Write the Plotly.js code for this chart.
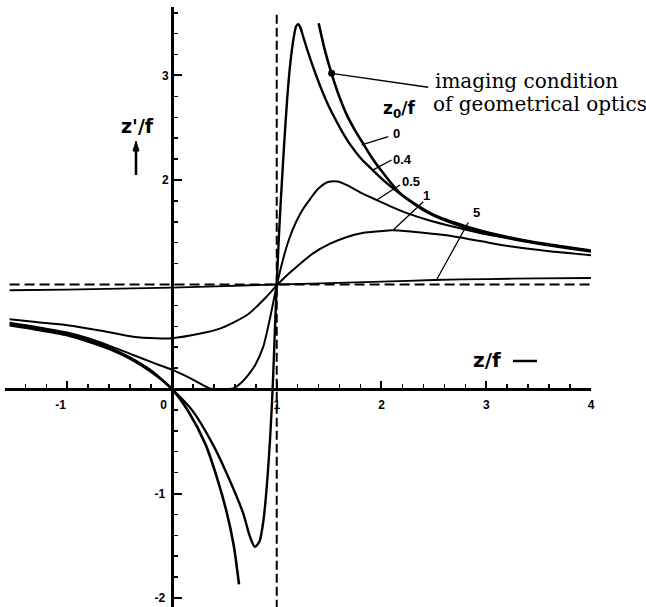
<!DOCTYPE html>
<html>
<head>
<meta charset="utf-8">
<script src="https://cdn.plot.ly/plotly-3.0.1.min.js"></script>
<style>
  html, body { margin: 0; padding: 0; background: #ffffff; }
  #chart { width: 646px; height: 607px; }
</style>
</head>
<body>
<div id="chart"></div>
<script>
// Image distance z'/f versus object distance z/f for a thin lens,
// one curve per Rayleigh range z0/f of the incoming beam.

// z0/f = 0 (geometrical optics), branch left of the focal point
const zGeoLeft  = [-1.55, -1.3, -1.0, -0.8, -0.6, -0.4, -0.2, 0.0, 0.16, 0.32, 0.43, 0.52, 0.59, 0.64];
const zpGeoLeft = [0.61, 0.57, 0.515, 0.455, 0.385, 0.29, 0.165, 0.0, -0.22, -0.53, -0.85, -1.17, -1.5, -1.87];

// z0/f = 0, branch right of the focal point
const zGeoRight  = [1.40, 1.46, 1.52, 1.60, 1.67, 1.75, 1.83, 1.91, 1.99, 2.18, 2.49, 2.81, 3.13, 3.45, 3.75, 4.0];
const zpGeoRight = [3.50, 3.24, 3.03, 2.79, 2.62, 2.47, 2.34, 2.21, 2.10, 1.87, 1.67, 1.555, 1.47, 1.405, 1.36, 1.325];

// z0/f = 0.4
const z04  = [-1.55, -1.3, -1.0, -0.8, -0.6, -0.4, -0.2, 0.0, 0.19, 0.39, 0.55, 0.68, 0.74, 0.79, 0.835, 0.87, 0.895, 0.915, 0.935, 0.95, 0.965, 0.98,
              1.0, 1.02, 1.04, 1.07, 1.10, 1.13, 1.16, 1.185, 1.205, 1.225, 1.25, 1.29, 1.33, 1.38, 1.43, 1.49, 1.55, 1.62, 1.70, 1.80, 1.92, 2.05,
              2.2, 2.4, 2.6, 2.8, 3.0, 3.25, 3.5, 3.75, 4.0];
const zp04 = [0.625, 0.582, 0.527, 0.467, 0.397, 0.302, 0.177, 0.0, -0.2, -0.53, -0.87, -1.19, -1.40, -1.51, -1.46, -1.28, -1.05, -0.80, -0.50, -0.22, 0.10, 0.50,
              1.0, 1.45, 1.82, 2.33, 2.78, 3.12, 3.35, 3.47, 3.49, 3.46, 3.38, 3.25, 3.13, 2.99, 2.86, 2.72, 2.60, 2.47, 2.34, 2.21, 2.09, 1.97,
              1.85, 1.71, 1.615, 1.545, 1.49, 1.435, 1.39, 1.35, 1.315];

// z0/f = 0.5
const z05  = [-1.55, -1.3, -1.0, -0.8, -0.6, -0.37, -0.2, -0.11, 0.0, 0.1, 0.2, 0.3, 0.36, 0.45, 0.52, 0.585, 0.65, 0.74, 0.8, 0.87, 0.93, 1.0,
              1.06, 1.12, 1.19, 1.25, 1.32, 1.4, 1.49, 1.58, 1.67, 1.82, 1.95, 2.08, 2.25, 2.45, 2.7, 3.0, 3.3, 3.6, 4.0];
const zp05 = [0.635, 0.595, 0.54, 0.485, 0.415, 0.325, 0.26, 0.225, 0.185, 0.14, 0.09, 0.035, 0.005, 0.0, 0.0, 0.005, 0.05, 0.15, 0.24, 0.40, 0.65, 0.99,
              1.24, 1.44, 1.61, 1.72, 1.82, 1.92, 1.98, 1.985, 1.95, 1.87, 1.81, 1.75, 1.68, 1.615, 1.55, 1.48, 1.43, 1.38, 1.32];

// z0/f = 1
const z1  = [-1.55, -1.3, -1.0, -0.69, -0.37, -0.15, 0.0, 0.27, 0.45, 0.585, 0.72, 0.81, 0.9, 1.0, 1.1, 1.19, 1.35, 1.51, 1.67, 1.83, 1.98, 2.1,
             2.3, 2.62, 2.94, 3.26, 3.58, 4.0];
const zp1 = [0.667, 0.64, 0.61, 0.56, 0.50, 0.485, 0.485, 0.53, 0.575, 0.635, 0.71, 0.79, 0.88, 0.99, 1.09, 1.17, 1.30, 1.39, 1.455, 1.495, 1.51, 1.52,
             1.505, 1.47, 1.415, 1.36, 1.32, 1.28];

// z0/f = 5
const z5  = [-1.55, -1.0, -0.5, 0.0, 0.5, 1.0, 1.5, 2.0, 2.5, 3.0, 3.5, 4.0];
const zp5 = [0.945, 0.95, 0.96, 0.97, 0.985, 1.0, 1.012, 1.027, 1.043, 1.052, 1.058, 1.062];

// Asymptotes z/f = 1 and z'/f = 1
const asymVertZ  = [1, 1];
const asymVertZp = [3.58, -2.09];
const asymHorZ   = [-1.55, 4.0];
const asymHorZp  = [1, 1];

// Marked point on the geometrical-optics curve
const markZ  = [1.524];
const markZp = [3.02];

// Curve labels (z0/f values) and axis tick labels
const rayleighLabels = ['0', '0.4', '0.5', '1', '5'];
const xTickVals = [-1, 0, 1, 2, 3, 4];
const xTickText = ['-1\u00a0\u00a0\u00a0\u00a0', '0\u00a0\u00a0\u00a0\u00a0\u00a0', '1', '2', '3', '4'];
const yTickVals = [-2, -1, 2, 3];
const yTickText = ['-2\u00a0', '-1\u00a0', '2', '3'];

// ---- page geometry (pixels of the 646 x 607 figure) ----
const W = 646, H = 607;
const px = x => x / W;
const py = y => 1 - y / H;

const ink = '#000000';
const curve = (x, y, w) => ({
  x, y, type: 'scatter', mode: 'lines', hoverinfo: 'skip', showlegend: false,
  line: { color: ink, width: w, shape: 'spline', smoothing: 0.7 }
});

const traces = [
  { x: asymVertZ, y: asymVertZp, type: 'scatter', mode: 'lines', showlegend: false, hoverinfo: 'skip',
    line: { color: ink, width: 2, dash: '9px,4px' } },
  { x: asymHorZ, y: asymHorZp, type: 'scatter', mode: 'lines', showlegend: false, hoverinfo: 'skip',
    line: { color: ink, width: 2, dash: '10px,5px' } },
  curve(z5, zp5, 1.8),
  curve(z1, zp1, 2),
  curve(z05, zp05, 2),
  curve(z04, zp04, 2.4),
  curve(zGeoLeft, zpGeoLeft, 2.6),
  curve(zGeoRight, zpGeoRight, 2.6),
  { x: markZ, y: markZp, type: 'scatter', mode: 'markers', showlegend: false, hoverinfo: 'skip',
    marker: { color: ink, size: 7 } }
];

// leader lines from each curve to its label (data units)
const leader = (x0, y0, x1, y1) => ({
  type: 'line', xref: 'x', yref: 'y', x0, y0, x1, y1,
  line: { color: ink, width: 1.3 }
});
const shapes = [
  leader(1.811, 2.335, 2.065, 2.414),   // 0
  leader(1.921, 2.096, 2.097, 2.191),   // 0.4
  leader(1.954, 1.809, 2.176, 1.952),   // 0.5
  leader(2.112, 1.522, 2.399, 1.792),   // 1
  leader(2.526, 1.045, 2.828, 1.593),   // 5
  leader(markZ[0], markZp[0], 2.446, 2.887),
  // dash after the z/f axis label
  { type: 'line', xref: 'paper', yref: 'paper', x0: px(513), x1: px(537), y0: py(361), y1: py(361),
    line: { color: ink, width: 2.5 } },
  // upward arrow under the z'/f label
  { type: 'line', xref: 'paper', yref: 'paper', x0: px(136), x1: px(136), y0: py(175), y1: py(148),
    line: { color: ink, width: 2.6 } },
  { type: 'path', xref: 'paper', yref: 'paper',
    path: `M ${px(136)} ${py(141)} L ${px(133)} ${py(151)} L ${px(139)} ${py(151)} Z`,
    fillcolor: ink, line: { color: ink, width: 1 } }
];

const labelFont = { family: 'Liberation Sans, Arial, sans-serif', size: 13, color: ink, weight: 'bold' };
const curveLabel = (text, x, y) => ({
  text, x, y, xref: 'x', yref: 'y', showarrow: false, xanchor: 'center', yanchor: 'middle', font: labelFont
});

const annotations = [
  curveLabel(rayleighLabels[0], 2.145, 2.447),
  curveLabel(rayleighLabels[1], 2.205, 2.198),
  curveLabel(rayleighLabels[2], 2.278, 1.984),
  curveLabel(rayleighLabels[3], 2.431, 1.847),
  curveLabel(rayleighLabels[4], 2.905, 1.691),
  { text: 'z<sub>0</sub>/f', x: 2.167, y: 2.67, xref: 'x', yref: 'y', showarrow: false,
    xanchor: 'center', yanchor: 'middle',
    font: { family: 'DejaVu Sans, sans-serif', size: 17, color: ink, weight: 'bold' } },
  { text: 'imaging condition', x: px(433), y: py(81), xref: 'paper', yref: 'paper', showarrow: false,
    xanchor: 'left', yanchor: 'middle', font: { family: 'DejaVu Serif, serif', size: 20, color: ink } },
  { text: 'of geometrical optics', x: px(431), y: py(104), xref: 'paper', yref: 'paper', showarrow: false,
    xanchor: 'left', yanchor: 'middle', font: { family: 'DejaVu Serif, serif', size: 20, color: ink } },
  { text: "z'/f", x: px(137.5), y: py(126), xref: 'paper', yref: 'paper', showarrow: false,
    xanchor: 'center', yanchor: 'middle',
    font: { family: 'DejaVu Sans, sans-serif', size: 19, color: ink, weight: 'bold' } },
  { text: 'z/f', x: px(486.7), y: py(360), xref: 'paper', yref: 'paper', showarrow: false,
    xanchor: 'center', yanchor: 'middle',
    font: { family: 'DejaVu Sans, sans-serif', size: 20, color: ink, weight: 'bold' } }
];

const tickFont = { family: 'Liberation Sans, Arial, sans-serif', size: 12, color: ink, weight: 'bold' };

const layout = {
  width: W, height: H,
  margin: { l: 0, r: 0, t: 0, b: 0, pad: 0 },
  paper_bgcolor: '#ffffff', plot_bgcolor: 'rgba(0,0,0,0)',
  showlegend: false,
  xaxis: {
    range: [-1.594, 4.0], domain: [px(5), px(591)],
    anchor: 'free', position: py(389),
    showline: true, linewidth: 3, linecolor: ink,
    showgrid: false, zeroline: false,
    ticks: 'inside', ticklen: 7, tickwidth: 2, tickcolor: ink,
    tickmode: 'array', tickvals: xTickVals, ticktext: xTickText,
    tickfont: tickFont, ticklabelstandoff: 4,
    minor: { ticks: 'inside', tick0: 0, dtick: 0.2, ticklen: 4, tickwidth: 1.5, tickcolor: ink, showgrid: false },
    fixedrange: true
  },
  yaxis: {
    range: [-2.086, 3.655], domain: [0, 1 - 7 / H],
    anchor: 'free', position: px(172),
    showline: true, linewidth: 3, linecolor: ink,
    showgrid: false, zeroline: false,
    ticks: 'inside', ticklen: 8, tickwidth: 2, tickcolor: ink,
    tickmode: 'array', tickvals: yTickVals, ticktext: yTickText,
    tickfont: tickFont, ticklabelstandoff: 0,
    minor: { ticks: 'inside', tick0: 0, dtick: 0.2, ticklen: 4, tickwidth: 1.5, tickcolor: ink, showgrid: false },
    fixedrange: true
  },
  shapes, annotations
};

Plotly.newPlot('chart', traces, layout, { staticPlot: true, displayModeBar: false });
</script>
</body>
</html>
